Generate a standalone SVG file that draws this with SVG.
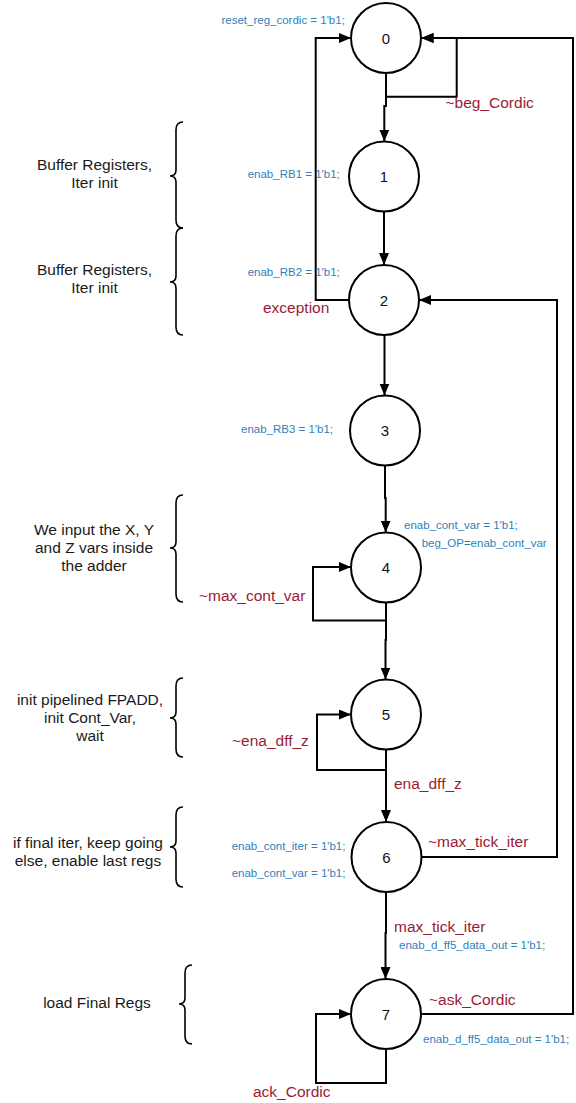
<svg xmlns="http://www.w3.org/2000/svg" width="576" height="1103" viewBox="0 0 576 1103">
  <style>
    .state circle { fill: #ffffff; stroke: #000000; stroke-width: 2; }
    .state text { font-family: "Liberation Sans", Arial, sans-serif; font-size: 15px; fill: #111111; text-anchor: middle; }
    .edge { fill: none; stroke: #000000; stroke-width: 2; }
    .arrow { marker-end: url(#head); }
    .act { font-family: "Liberation Sans", Arial, sans-serif; font-size: 11.5px; fill: #2f7fbd; }
    .cond { font-family: "Liberation Sans", Arial, sans-serif; font-size: 15.5px; fill: #9b1b35; }
    .note { font-family: "Liberation Sans", Arial, sans-serif; font-size: 15.5px; fill: #1a1a1a; text-anchor: middle; }
    .brace { fill: none; stroke: #000000; stroke-width: 1.6; }
  </style>
  <defs>
    <marker id="head" viewBox="0 0 12 10" refX="12" refY="5" markerWidth="12" markerHeight="10" markerUnits="userSpaceOnUse" orient="auto">
      <path d="M0,0 L12,5 L0,10 Z" fill="#000000"/>
    </marker>
  </defs>

  <rect x="0" y="0" width="576" height="1103" fill="#ffffff"/>

  <!-- transitions -->
  <g id="connectors">
    <!-- 0: wait while ~beg_Cordic -->
    <path class="edge arrow" d="M386,73 V96.7 H456.7 V38 H421.5"/>
    <!-- 0 -> 1 -->
    <path class="edge arrow" d="M386,96.7 V106 H384.3 V141.5"/>
    <!-- 1 -> 2 -->
    <path class="edge arrow" d="M384,211.5 V265"/>
    <!-- 2 -> 0 on exception -->
    <path class="edge arrow" d="M349,300 H315.7 V38 H351"/>
    <!-- 2 -> 3 -->
    <path class="edge arrow" d="M384.5,335 V395.5"/>
    <!-- 3 -> 4 -->
    <path class="edge arrow" d="M385,465.5 V498 H385.7 V532.5"/>
    <!-- 4 self loop -->
    <path class="edge arrow" d="M386,602.5 V620.5 H313 V567 H351"/>
    <!-- 4 -> 5 -->
    <path class="edge arrow" d="M386,620.5 V640 H385.5 V679.5"/>
    <!-- 5 self loop -->
    <path class="edge arrow" d="M386,749.5 V770 H317 V714.5 H351"/>
    <!-- 5 -> 6 -->
    <path class="edge arrow" d="M386,770 V822"/>
    <!-- 6 -> 2 on ~max_tick_iter -->
    <path class="edge arrow" d="M421.5,857 H557 V300 H419"/>
    <!-- 6 -> 7 -->
    <path class="edge arrow" d="M386,892 V933 H385.5 V979"/>
    <!-- 7 self loop on ack_Cordic -->
    <path class="edge arrow" d="M386,1049 V1083 H316 V1014 H351"/>
    <!-- 7 -> 0 on ~ask_Cordic -->
    <path class="edge arrow" d="M421,1014 H573 V38 H421.5"/>
  </g>

  <!-- states -->
  <g id="s0" class="state"><circle cx="386" cy="38" r="35"/><text x="386" y="43.5">0</text></g>
  <g id="s1" class="state"><circle cx="384" cy="176.5" r="35"/><text x="384" y="182">1</text></g>
  <g id="s2" class="state"><circle cx="384" cy="300" r="35"/><text x="384" y="305.5">2</text></g>
  <g id="s3" class="state"><circle cx="385" cy="430.5" r="35"/><text x="385" y="436">3</text></g>
  <g id="s4" class="state"><circle cx="386" cy="567.5" r="35"/><text x="386" y="573">4</text></g>
  <g id="s5" class="state"><circle cx="386" cy="714.5" r="35"/><text x="386" y="720">5</text></g>
  <g id="s6" class="state"><circle cx="386.5" cy="857" r="35"/><text x="386.5" y="862.5">6</text></g>
  <g id="s7" class="state"><circle cx="386" cy="1014" r="35"/><text x="386" y="1019.5">7</text></g>

  <!-- state outputs -->
  <g id="outputs">
    <text class="act" x="221.5" y="24">reset_reg_cordic = 1'b1;</text>
    <text class="act" x="247.7" y="178">enab_RB1 = 1'b1;</text>
    <text class="act" x="247.7" y="276">enab_RB2 = 1'b1;</text>
    <text class="act" x="241" y="433">enab_RB3 = 1'b1;</text>
    <text class="act" x="404" y="529">enab_cont_var = 1'b1;</text>
    <text class="act" x="421.7" y="546.7">beg_OP=enab_cont_var</text>
    <text class="act" x="231.7" y="850">enab_cont_iter = 1'b1;</text>
    <text class="act" x="231.7" y="876.7">enab_cont_var = 1'b1;</text>
    <text class="act" x="399" y="949">enab_d_ff5_data_out = 1'b1;</text>
    <text class="act" x="423" y="1043">enab_d_ff5_data_out = 1'b1;</text>
  </g>

  <!-- transition conditions -->
  <g id="conditions">
    <text class="cond" x="445.5" y="108">~beg_Cordic</text>
    <text class="cond" x="263" y="313">exception</text>
    <text class="cond" x="199" y="600.7">~max_cont_var</text>
    <text class="cond" x="232" y="746">~ena_dff_z</text>
    <text class="cond" x="394" y="788.5">ena_dff_z</text>
    <text class="cond" x="428" y="847">~max_tick_iter</text>
    <text class="cond" x="394" y="931.7">max_tick_iter</text>
    <text class="cond" x="429" y="1005">~ask_Cordic</text>
    <text class="cond" x="253" y="1097">ack_Cordic</text>
  </g>

  <!-- phase notes with braces -->
  <g id="note1">
    <text class="note" x="94.5" y="170">Buffer Registers,</text>
    <text class="note" x="94.5" y="188">Iter init</text>
    <path class="brace" d="M183,122 Q176,122 176,130 V170 Q176,176 170,176 Q176,176 176,182 V220 Q176,228 183,228"/>
  </g>
  <g id="note2">
    <text class="note" x="94.5" y="275">Buffer Registers,</text>
    <text class="note" x="94.5" y="293">Iter init</text>
    <path class="brace" d="M183,228 Q176,228 176,236 V276 Q176,282 170,282 Q176,282 176,288 V327 Q176,335 183,335"/>
  </g>
  <g id="note3">
    <text class="note" x="94" y="535">We input the X, Y</text>
    <text class="note" x="94" y="553">and Z vars inside</text>
    <text class="note" x="94" y="571">the adder</text>
    <path class="brace" d="M183,495 Q176,495 176,503 V542 Q176,548 170,548 Q176,548 176,554 V594 Q176,602 183,602"/>
  </g>
  <g id="note4">
    <text class="note" x="90" y="705">init pipelined FPADD,</text>
    <text class="note" x="90" y="723">init Cont_Var,</text>
    <text class="note" x="90" y="741">wait</text>
    <path class="brace" d="M183,678 Q176,678 176,686 V712 Q176,718 170,718 Q176,718 176,724 V749 Q176,757 183,757"/>
  </g>
  <g id="note5">
    <text class="note" x="88" y="848">if final iter, keep going</text>
    <text class="note" x="88" y="866">else, enable last regs</text>
    <path class="brace" d="M183,807 Q176,807 176,815 V841 Q176,847 170,847 Q176,847 176,853 V879 Q176,887 183,887"/>
  </g>
  <g id="note6">
    <text class="note" x="97" y="1008">load Final Regs</text>
    <path class="brace" d="M192,965 Q185,965 185,973 V998 Q185,1004 179,1004 Q185,1004 185,1010 V1036 Q185,1044 192,1044"/>
  </g>
</svg>
